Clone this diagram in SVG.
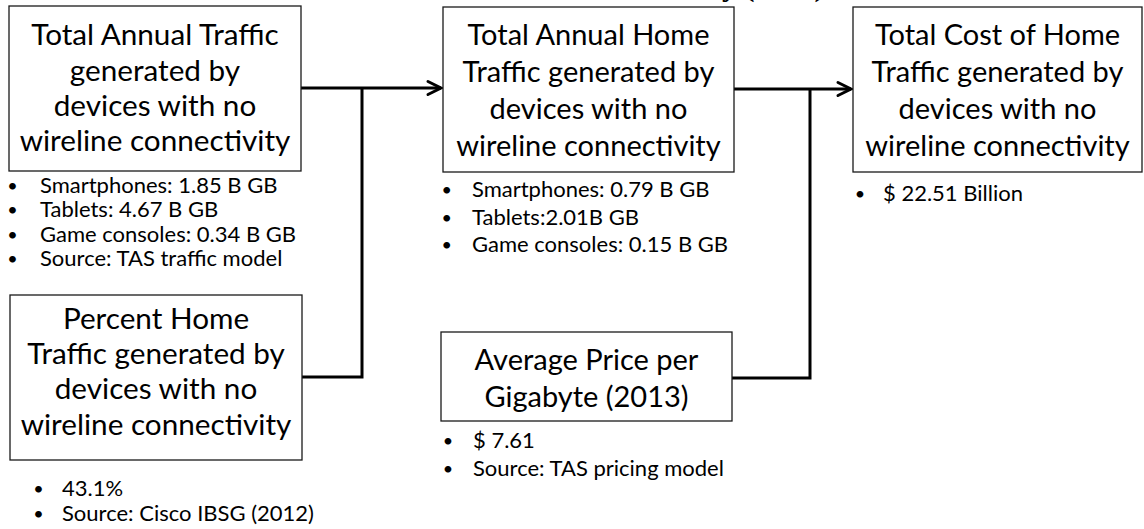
<svg xmlns="http://www.w3.org/2000/svg" width="1144" height="529" viewBox="0 0 1144 529">
  <style>
    .box { fill: #ffffff; stroke: #1a1a1a; stroke-width: 1.3; }
    .title { font-family: Lato, "Open Sans", sans-serif; font-size: 29px; fill: #000; text-anchor: middle; }
    .wide { font-size: 29.7px; }
    .item { font-family: Lato, "Open Sans", sans-serif; font-size: 22px; fill: #000; }
    .dot { font-family: Lato, "Open Sans", sans-serif; font-size: 18px; fill: #000; text-anchor: middle; }
    .wire { fill: none; stroke: #000; stroke-width: 3; }
    .head { font-family: "Liberation Serif", serif; font-weight: bold; font-size: 30px; fill: #000; }
  </style>
  <defs>
    <marker id="arrow" markerUnits="userSpaceOnUse" markerWidth="20" markerHeight="20" viewBox="0 0 20 20" refX="16" refY="10" orient="auto">
      <path d="M3,3.5 L16,10 L3,16.5" fill="none" stroke="#000" stroke-width="3" stroke-linecap="round" stroke-linejoin="miter"/>
    </marker>
  </defs>
  <rect width="1144" height="529" fill="#ffffff"/>

  <!-- heading, cut by the top edge -->
  <text class="head" x="722" y="-4">y (2013)</text>

  <!-- connectors -->
  <g id="connectors">
    <path class="wire" d="M301,88 H441" marker-end="url(#arrow)"/>
    <path class="wire" d="M362,88 V377 H302"/>
    <path class="wire" d="M734,89 H851" marker-end="url(#arrow)"/>
    <path class="wire" d="M810,89 V378 H732"/>
  </g>

  <g id="total-annual-traffic">
    <rect class="box" x="9" y="6" width="292" height="165"/>
    <text class="title wide" x="155" y="45">Total Annual Traffic</text>
    <text class="title wide" x="155" y="80.5">generated by</text>
    <text class="title wide" x="155" y="116">devices with no</text>
    <text class="title wide" x="155" y="151">wireline connectivity</text>
    <text class="dot" x="12.5" y="192">•</text>
    <text class="item" x="40" y="193">Smartphones: 1.85 B GB</text>
    <text class="dot" x="12.5" y="216">•</text>
    <text class="item" x="40" y="217">Tablets: 4.67 B GB</text>
    <text class="dot" x="12.5" y="241">•</text>
    <text class="item" x="40" y="242">Game consoles: 0.34 B GB</text>
    <text class="dot" x="12.5" y="265">•</text>
    <text class="item" x="40" y="266">Source: TAS traffic model</text>
  </g>

  <g id="percent-home-traffic">
    <rect class="box" x="10" y="295" width="292" height="165"/>
    <text class="title wide" x="156" y="329">Percent Home</text>
    <text class="title wide" x="156" y="364">Traffic generated by</text>
    <text class="title wide" x="156" y="399">devices with no</text>
    <text class="title wide" x="156" y="435">wireline connectivity</text>
    <text class="dot" x="38.5" y="495">•</text>
    <text class="item" x="62" y="496">43.1%</text>
    <text class="dot" x="38.5" y="520">•</text>
    <text class="item" x="62" y="521">Source: Cisco IBSG (2012)</text>
  </g>

  <g id="total-annual-home-traffic">
    <rect class="box" x="443" y="7" width="291" height="165"/>
    <text class="title" x="588.5" y="45">Total Annual Home</text>
    <text class="title" x="588.5" y="81.5">Traffic generated by</text>
    <text class="title" x="588.5" y="119">devices with no</text>
    <text class="title" x="588.5" y="156">wireline connectivity</text>
    <text class="dot" x="446.7" y="196">•</text>
    <text class="item" x="472" y="197">Smartphones: 0.79 B GB</text>
    <text class="dot" x="446.7" y="223.5">•</text>
    <text class="item" x="472" y="224.5">Tablets:2.01B GB</text>
    <text class="dot" x="446.7" y="251">•</text>
    <text class="item" x="472" y="252">Game consoles: 0.15 B GB</text>
  </g>

  <g id="average-price">
    <rect class="box" x="441" y="332" width="291" height="89"/>
    <text class="title" x="586.5" y="370">Average Price per</text>
    <text class="title" x="586.5" y="407">Gigabyte (2013)</text>
    <text class="dot" x="448" y="447">•</text>
    <text class="item" x="473" y="448">$ 7.61</text>
    <text class="dot" x="448" y="475">•</text>
    <text class="item" x="473" y="476">Source: TAS pricing model</text>
  </g>

  <g id="total-cost">
    <rect class="box" x="853" y="7" width="289" height="165"/>
    <text class="title" x="997.5" y="45">Total Cost of Home</text>
    <text class="title" x="997.5" y="81.5">Traffic generated by</text>
    <text class="title" x="997.5" y="119">devices with no</text>
    <text class="title" x="997.5" y="156">wireline connectivity</text>
    <text class="dot" x="860" y="200">•</text>
    <text class="item" x="883" y="201">$ 22.51 Billion</text>
  </g>
</svg>
